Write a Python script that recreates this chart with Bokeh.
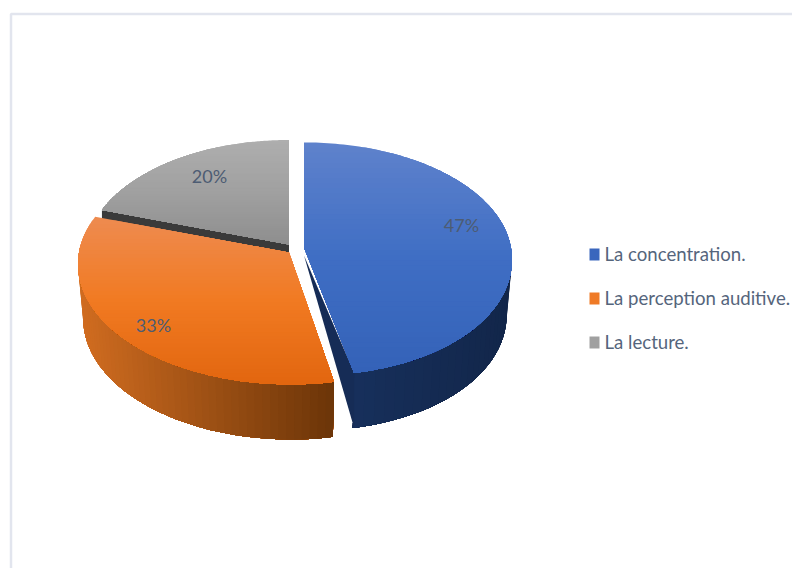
import math
from bokeh.plotting import figure
from bokeh.embed import file_html
from bokeh.resources import INLINE
from bokeh.core.properties import value

categories = ["La concentration.", "La perception auditive.", "La lecture."]
shares = [47, 33, 20]
labels = ["47%", "33%", "20%"]
top_stops = [["#5f82cc", "#3f6ec4", "#3462b8"],
             ["#ee8b50", "#f17a22", "#e2660f"],
             ["#aeaeae", "#a0a0a0", "#8e8e8e"]]
wall_stops = [["#17305c", "#12264a"], ["#d06c20", "#6a3408"], ["#3a3a3a", "#3a3a3a"]]
swatches = ["#3a66bd", "#ef7a26", "#a0a0a0"]

FONT = "Lato"
TEXT = "#55657c"
k = 0.098
A, B = 210.0, 120.8
DEPTH = 55.0
# slice: apex x, apex y, x scale, y scale, front skew
PLACE = [(303.5, 247.0, 0.985, 0.955, 7.5), (288.5, 252.0, 1.0, 0.985, 1.5), (288.5, 244.0, 0.965, 0.95, 0.0)]
INSET = 0.975


def hex2rgb(h):
    return [int(h[i:i + 2], 16) for i in (1, 3, 5)]


def mix(stops, t):
    t = max(0.0, min(1.0, t)) * (len(stops) - 1)
    i = min(int(t), len(stops) - 2)
    f = t - i
    a, b = hex2rgb(stops[i]), hex2rgb(stops[i + 1])
    return "#%02x%02x%02x" % tuple(round(a[j] + (b[j] - a[j]) * f) for j in range(3))


def project(theta, place, inset=1.0):
    ax, ay, sx, sy, skew = place
    u, v = math.sin(theta), math.cos(theta)
    w = 1 + k * v
    return ax + inset * (sx * A * u / w + skew * max(0.0, -v) ** 2), ay - sy * B * v / w


def clip_below(poly, y0):
    out = []
    for i in range(len(poly)):
        p_, q = poly[i], poly[(i + 1) % len(poly)]
        pin, qin = p_[1] >= y0, q[1] >= y0
        if pin:
            out.append(p_)
        if pin != qin:
            t = (y0 - p_[1]) / (q[1] - p_[1])
            out.append((p_[0] + (q[0] - p_[0]) * t, y0))
    return out


p = figure(width=792, height=568, x_range=(0, 792), y_range=(568, 0),
           output_backend="svg", toolbar_location=None, min_border=0)
p.axis.visible = False
p.grid.visible = False
p.outline_line_color = None
p.background_fill_color = "white"
p.border_fill_color = "white"

# frame of the chart area
p.line([10.5, 10.5, 792], [568, 13.5, 13.5], line_color="#e2e5ee", line_width=2.5)

starts, acc = [], 0.0
for s in shares:
    starts.append(acc)
    acc += s
total = float(acc)
spans = [(2 * math.pi * a / total, 2 * math.pi * (a + s) / total) for a, s in zip(starts, shares)]


def draw_top(i):
    t0, t1 = spans[i]
    n = 140
    poly = [(PLACE[i][0], PLACE[i][1])]
    poly += [project(t0 + (t1 - t0) * j / n, PLACE[i]) for j in range(n + 1)]
    ys = [pt[1] for pt in poly]
    ymin, ymax = min(ys), max(ys)
    bands = 45
    for b in range(bands):
        y0 = ymin + (ymax - ymin) * b / bands
        part = clip_below(poly, y0)
        if len(part) >= 3:
            p.patch([q[0] for q in part], [q[1] for q in part],
                    fill_color=mix(top_stops[i], (b + 0.5) / bands), line_color=None)


def draw_wall(i, xlo, xhi, from_left):
    """Side of a slice, painted strip by strip: each strip also covers the rest."""
    t0, t1 = spans[i]
    n = 60
    angles = [t0 + (t1 - t0) * j / n for j in range(n + 1)]
    angles = [a for a in angles if math.cos(a) < 0.12]
    if from_left:
        angles = angles[::-1]
    for j in range(len(angles) - 1):
        rest = angles[j:]
        upper = [project(a, PLACE[i]) for a in rest]
        lower = [project(a, PLACE[i], INSET) for a in rest]
        xs = [q[0] for q in upper] + [q[0] for q in lower[::-1]]
        ys = [q[1] for q in upper] + [q[1] + DEPTH for q in lower[::-1]]
        col = mix(wall_stops[i], (upper[0][0] - xlo) / (xhi - xlo))
        p.patch(xs, ys, fill_color=col, line_color=None)


# grey slice: its dark inner side is seen below the top face
gx, gy = project(spans[2][0], PLACE[2])
ax, ay = PLACE[2][0], PLACE[2][1]
p.patch([ax, gx, gx, ax], [ay, gy, gy + DEPTH, ay + DEPTH], fill_color="#3a3a3a", line_color=None)
draw_top(2)

# blue slice
draw_wall(0, 354, 512, False)
bx, by = project(spans[0][1], PLACE[0])
p.patch([PLACE[0][0], bx, bx], [PLACE[0][1] + 8, by, by + DEPTH], fill_color="#162c56", line_color=None)
draw_top(0)

# orange slice
draw_wall(1, 78, 333, True)
draw_top(1)

# data labels
p.text([461, 153, 209], [224, 324, 175], text=labels, text_font=value(FONT), text_font_size="18px",
       text_color="#4d5c73", text_align="center", text_baseline="middle")

# legend
legend_y = [253, 297, 341]
p.rect([594] * 3, [254, 298, 342], width=10, height=12, fill_color=swatches, line_color=None)
p.text([604] * 3, legend_y, text=categories, text_font=value(FONT), text_font_size="18.6px",
       text_color=TEXT, text_align="left", text_baseline="middle")

open("out.html", "w").write(file_html(p, INLINE))
